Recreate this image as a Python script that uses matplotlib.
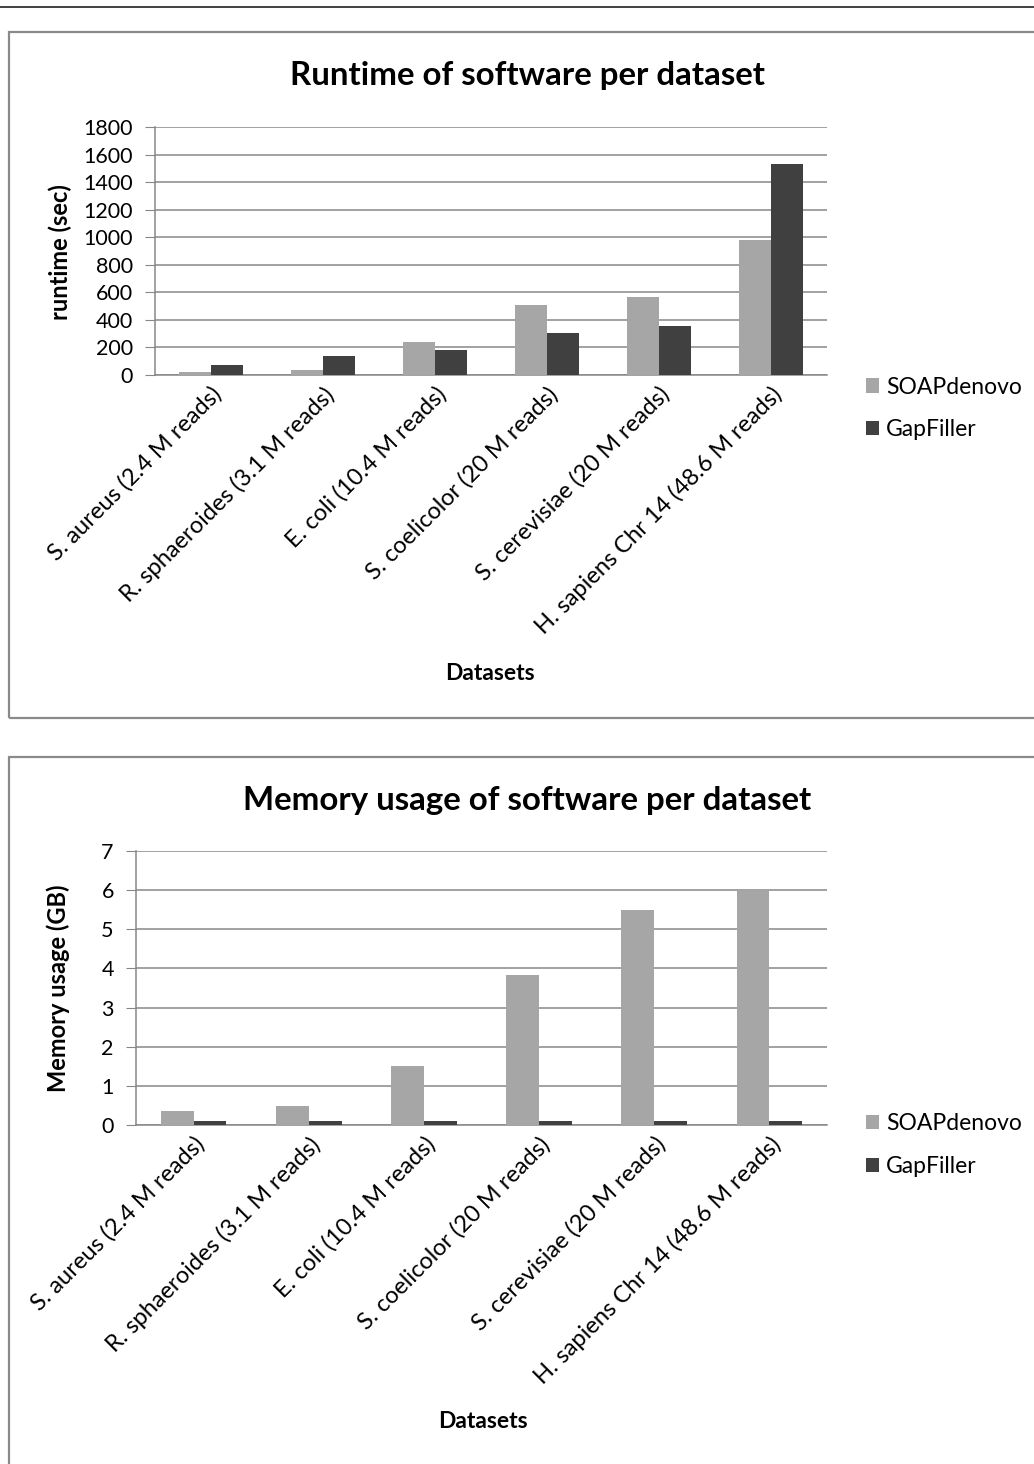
import matplotlib.pyplot as plt
from matplotlib.patches import Rectangle
from matplotlib.lines import Line2D
import numpy as np

plt.rcParams['font.family'] = ['Lato', 'DejaVu Sans']

datasets = ['S. aureus (2.4 M reads)', 'R. sphaeroides (3.1 M reads)', 'E. coli (10.4 M reads)',
            'S. coelicolor (20 M reads)', 'S. cerevisiae (20 M reads)', 'H. sapiens Chr 14 (48.6 M reads)']
series = ['SOAPdenovo', 'GapFiller']

runtime_soap = [20, 38, 242, 507, 567, 982]
runtime_gap = [73, 136, 180, 303, 354, 1530]

memory_soap = [0.37, 0.48, 1.52, 3.82, 5.50, 6.00]
memory_gap = [0.09, 0.09, 0.09, 0.09, 0.09, 0.09]

c_soap = '#a6a6a6'
c_gap = '#404040'
c_grid = '#878787'

W, H = 1034, 1464
fig = plt.figure(figsize=(W / 100, H / 100), dpi=100)

def fx(px):
    return px / W

def fy(py):
    return 1 - py / H

# outer frames and top rule
fig.add_artist(Line2D([0, 1], [fy(7), fy(7)], color='#202020', lw=1.2))
fig.add_artist(Rectangle((fx(9), fy(718)), 1.0, (718 - 32) / H, fill=False,
                         edgecolor='#8a8a8a', lw=1.6))
fig.add_artist(Rectangle((fx(9), fy(1480)), 1.0, (1480 - 757) / H, fill=False,
                         edgecolor='#8a8a8a', lw=1.6))


def draw(ax, soap, gap, ymax, step, leg_anchor):
    x = np.arange(len(datasets))
    bw = 1 / 3.5
    ax.bar(x - bw / 2, soap, bw, color=c_soap, label=series[0], zorder=3)
    ax.bar(x + bw / 2, gap, bw, color=c_gap, label=series[1], zorder=3)
    ax.set_xlim(-0.5, len(datasets) - 0.5)
    ax.set_ylim(0, ymax)
    ax.set_yticks(np.arange(0, ymax + step / 2, step))
    ax.yaxis.grid(True, color=c_grid, lw=1.1, zorder=0)
    ax.set_axisbelow(True)
    for s in ['top', 'right']:
        ax.spines[s].set_visible(False)
    ax.spines['left'].set_color(c_grid)
    ax.spines['bottom'].set_color(c_grid)
    ax.spines['left'].set_linewidth(1.1)
    ax.spines['bottom'].set_linewidth(1.1)
    ax.tick_params(axis='y', length=7, color=c_grid, labelsize=15.5, pad=9)
    ax.tick_params(axis='x', length=0, labelsize=17, pad=6)
    ax.set_xticks(x)
    ax.set_xticklabels(datasets, rotation=45, ha='right', va='top', rotation_mode='anchor')
    ax.legend(loc='center left', bbox_to_anchor=leg_anchor, frameon=False, fontsize=16.5,
              handlelength=0.58, handleheight=0.58, handletextpad=0.3, labelspacing=0.95,
              borderaxespad=0, borderpad=0)


ax1 = fig.add_axes([fx(155), fy(375), fx(827) - fx(155), (375 - 127) / H])
draw(ax1, runtime_soap, runtime_gap, 1800, 200, (1.058, -0.135))
fig.text(fx(528), fy(75), 'Runtime of software per dataset', ha='center', va='center',
         fontsize=23.8, fontweight='bold')
fig.text(fx(60), fy(252), 'runtime (sec)', rotation=90, ha='center', va='center',
         fontsize=17, fontweight='bold')
fig.text(fx(490), fy(673), 'Datasets', ha='center', va='center', fontsize=16.5, fontweight='bold')

ax2 = fig.add_axes([fx(136), fy(1125), fx(827) - fx(136), (1125 - 851) / H])
draw(ax2, memory_soap, memory_gap, 7, 1, (1.056, -0.073))
fig.text(fx(527), fy(800), 'Memory usage of software per dataset', ha='center', va='center',
         fontsize=23.8, fontweight='bold')
fig.text(fx(58), fy(988), 'Memory usage (GB)', rotation=90, ha='center', va='center',
         fontsize=17, fontweight='bold')
fig.text(fx(483), fy(1422), 'Datasets', ha='center', va='center', fontsize=16.5, fontweight='bold')

fig.savefig('out.png', dpi=100)
